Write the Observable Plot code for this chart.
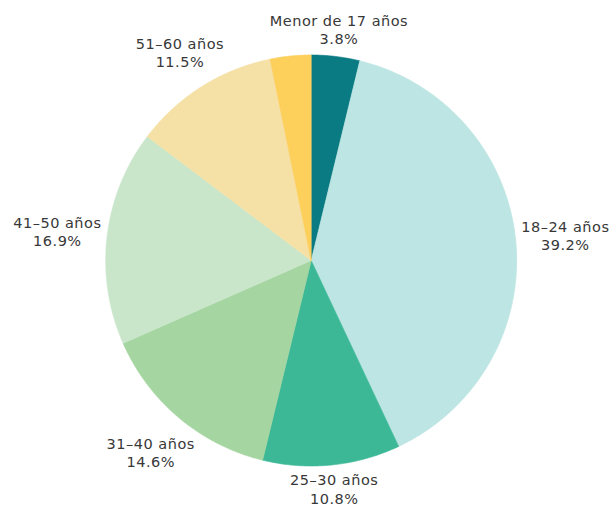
<!DOCTYPE html>
<html>
<head>
<meta charset="utf-8">
<script src="https://cdn.jsdelivr.net/npm/d3@7"></script>
<script src="https://cdn.jsdelivr.net/npm/@observablehq/plot@0.6"></script>
<style>
  html, body { margin: 0; padding: 0; background: #fff; }
  #chart svg { display: block; }
  #chart svg text { letter-spacing: 0.5px; }
</style>
</head>
<body>
<div id="chart"></div>
<script>
const categories = ["Menor de 17 años", "18–24 años", "25–30 años", "31–40 años", "41–50 años", "51–60 años", "Más de 60 años"];
const shares = [3.8, 39.2, 10.8, 14.6, 16.9, 11.5, 3.2];
const colors = ["#0b7b83", "#bde5e3", "#3cb897", "#a5d5a0", "#c9e6cb", "#f5e1a6", "#fdcf5b"];
const showLabel = [true, true, true, true, true, true, false];

const W = 615, H = 506;
const cx = 310.7, cy = 260;
const R = 205.5;
const fontSize = 14.5;
const letterSpacing = 0.5;
const fontFamily = "'DejaVu Sans', sans-serif";
const lineHeight = 1.25;

const total = d3.sum(shares);
let acc = 0;
const slices = categories.map((c, i) => {
  const a0 = acc / total * 2 * Math.PI;
  acc += shares[i];
  const a1 = acc / total * 2 * Math.PI;
  return {cat: c, value: shares[i], a0, a1, i};
});

// slice outline points (center, arc, center)
const pts = [];
for (const s of slices) {
  pts.push({cat: s.cat, x: 0, y: 0});
  const n = Math.max(2, Math.ceil((s.a1 - s.a0) / (Math.PI / 360)));
  for (let k = 0; k <= n; k++) {
    const a = s.a0 + (s.a1 - s.a0) * k / n;
    pts.push({cat: s.cat, x: R * Math.sin(a), y: R * Math.cos(a)});
  }
  pts.push({cat: s.cat, x: 0, y: 0});
}

// label placement
const ctx = document.createElement("canvas").getContext("2d");
ctx.font = `${fontSize}px ${fontFamily}`;
const R0 = 210;
const labels = slices.filter(s => showLabel[s.i]).map(s => {
  const a = (s.a0 + s.a1) / 2;
  const txt = `${s.cat}\n${s.value.toFixed(1)}%`;
  const hw = d3.max(txt.split("\n"), t => ctx.measureText(t).width + letterSpacing * t.length) / 2;
  const hh = 15;
  const sn = Math.sin(a), cs = Math.cos(a);
  const d = R0 + hw * Math.abs(sn) + hh * Math.abs(cs);
  return {text: txt, x: d * sn, y: d * cs};
});

const chart = Plot.plot({
  width: W,
  height: H,
  margin: 0,
  style: {background: "#fff"},
  x: {domain: [-cx, W - cx], axis: null},
  y: {domain: [-(H - cy), cy], axis: null},
  color: {domain: categories, range: colors},
  marks: [
    Plot.line(pts, {x: "x", y: "y", z: "cat", fill: "cat", stroke: "cat", strokeWidth: 0.6, curve: "linear"}),
    Plot.text(labels, {x: "x", y: "y", text: "text", fontSize, fontFamily, lineHeight, fill: "#383838", textAnchor: "middle"})
  ]
});
document.getElementById("chart").appendChild(chart);
</script>
</body>
</html>
